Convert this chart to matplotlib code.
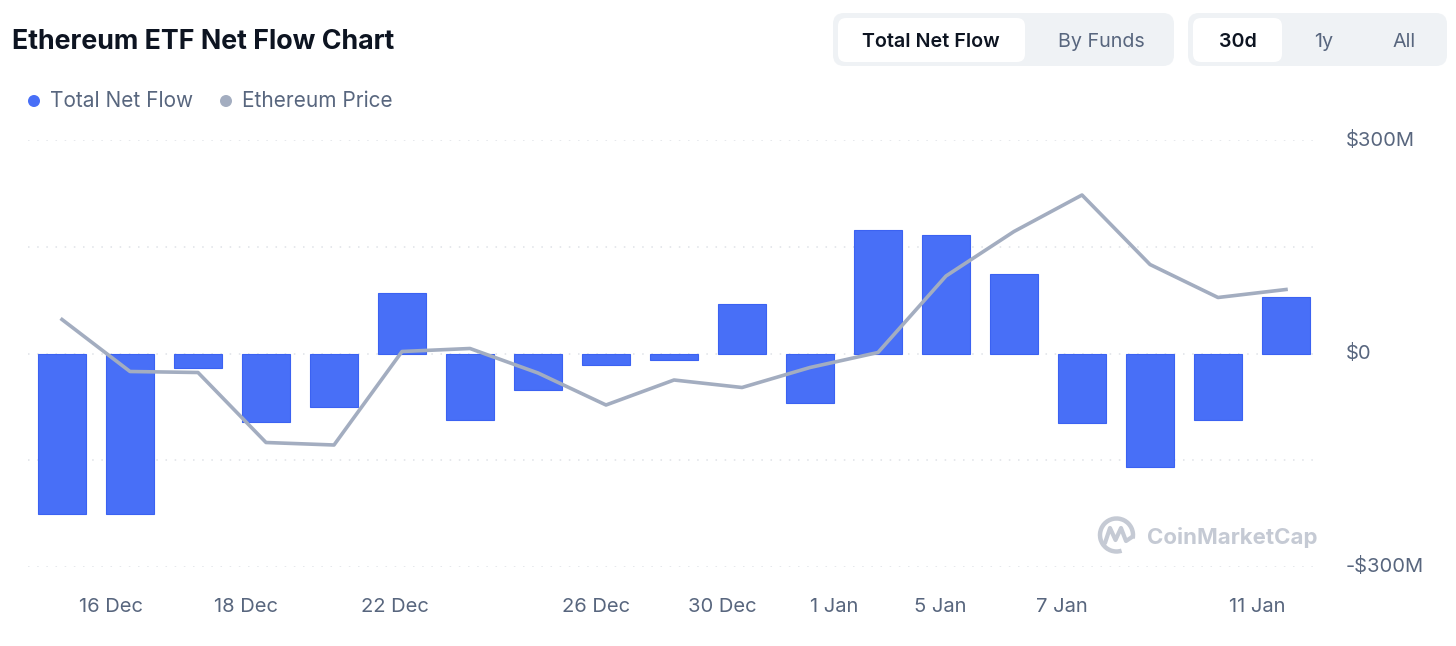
import matplotlib
matplotlib.use("Agg")
import matplotlib.pyplot as plt
from matplotlib.patches import FancyBboxPatch, Circle, Arc
import matplotlib.transforms as mtransforms
import numpy as np

plt.rcParams['font.family'] = ['Inter', 'DejaVu Sans']

# ---------------- data ----------------
dates = ["13 Dec", "16 Dec", "17 Dec", "18 Dec", "19 Dec", "20 Dec", "23 Dec", "24 Dec",
         "26 Dec", "27 Dec", "30 Dec", "31 Dec", "2 Jan", "3 Jan", "6 Jan", "7 Jan",
         "8 Jan", "10 Jan", "13 Jan"]
net_flow_musd = [-225, -225, -21, -96, -75, 85, -93, -51, -16, -9, 69, -70,
                 173, 166, 112, -98, -159, -94, 80]
eth_price_usd = [3531, 3427, 3425, 3285, 3280, 3467, 3473, 3424, 3360, 3410, 3395,
                 3435, 3465, 3618, 3707, 3780, 3641, 3575, 3591]
tick_labels = ["16 Dec", "18 Dec", "22 Dec", "26 Dec", "30 Dec", "1 Jan", "5 Jan", "7 Jan", "11 Jan"]
y_ticks_musd = [-300, -150, 0, 150, 300]
y_tick_labels = {300: "$300M", 0: "$0", -300: "-$300M"}

# ---------------- layout ----------------
W, H = 1456, 646
fig = plt.figure(figsize=(W / 100, H / 100), dpi=100)
fig.patch.set_facecolor("white")

ax_left, ax_right, ax_top, ax_bot = 28, 1320, 140, 567
ax = fig.add_axes([ax_left / W, 1 - ax_bot / H, (ax_right - ax_left) / W, (ax_bot - ax_top) / H])
ax.set_facecolor("none")
x = np.arange(len(dates))
ax.set_xlim(-0.5, len(dates) - 0.5)
ax.set_ylim(-300, 300)

for yv in y_ticks_musd:
    ax.axhline(yv, color="#dfe2e7", lw=1.1, ls=(0, (1, 5)), zorder=0)

ax.bar(x, net_flow_musd, width=0.705, color="#486ff7", edgecolor="#3b62f2", lw=0.8, zorder=2)

ax2 = ax.twinx()
ax2.set_ylim(3036, 3890)
ax2.plot(x, eth_price_usd, color="#a3adc0", lw=2.6, zorder=3, solid_joinstyle="round")

for a in (ax, ax2):
    for s in a.spines.values():
        s.set_visible(False)
    a.set_yticks([])
    a.tick_params(length=0)

tick_pos = [0.72, 2.71, 4.90, 7.85, 9.71, 11.35, 12.91, 14.71, 17.57]
ax.set_xticks(tick_pos)
ax.set_xticklabels(tick_labels, fontsize=14.5, color="#58667e")
ax.tick_params(axis="x", pad=22)

trans = mtransforms.blended_transform_factory(fig.transFigure, ax.transData)
for yv, lab in y_tick_labels.items():
    ax.text(1346 / W, yv, lab, transform=trans,
            ha="left", va="center", fontsize=14.5, color="#58667e")

# ---------------- overlay (header, legend, watermark) ----------------
ov = fig.add_axes([0, 0, 1, 1])
ov.set_xlim(0, W)
ov.set_ylim(H, 0)
ov.axis("off")
ov.set_facecolor("none")

ov.text(12, 42, "Ethereum ETF Net Flow Chart", fontsize=19.3, fontweight="bold",
        color="#0d1421", ha="left", va="center")

def rbox(x0, y0, x1, y1, color, r=9):
    ov.add_patch(FancyBboxPatch((x0 + r, y0 + r), x1 - x0 - 2 * r, y1 - y0 - 2 * r,
                                boxstyle=f"round,pad={r}", fc=color, ec="none"))

rbox(833, 13, 1174, 66, "#eff2f5", 11)
rbox(838, 18, 1025, 62, "white", 8)
ov.text(931, 42, "Total Net Flow", fontsize=14.2, fontweight="semibold", color="#0d1421", ha="center", va="center")
ov.text(1101, 42, "By Funds", fontsize=14.2, color="#58667e", ha="center", va="center")

rbox(1188, 13, 1447, 66, "#eff2f5", 11)
rbox(1193, 18, 1282, 62, "white", 8)
ov.text(1238, 42, "30d", fontsize=14.2, fontweight="semibold", color="#0d1421", ha="center", va="center")
ov.text(1324, 42, "1y", fontsize=14.2, color="#58667e", ha="center", va="center")
ov.text(1404, 42, "All", fontsize=14.2, color="#58667e", ha="center", va="center")

# legend
ov.add_patch(Circle((34, 101), 6, fc="#486ff7", ec="none"))
ov.text(50, 101, "Total Net Flow", fontsize=15, color="#58667e", ha="left", va="center")
ov.add_patch(Circle((226, 101), 6, fc="#a3adc0", ec="none"))
ov.text(242, 101, "Ethereum Price", fontsize=15, color="#58667e", ha="left", va="center")

# watermark
wm = "#c5cad4"
ov.add_patch(Arc((1116.5, 535), 33, 33, theta1=72, theta2=372, lw=3.2, color=wm))
ov.plot([1105, 1110, 1115.5, 1121, 1126, 1132], [543, 528, 540, 528, 541, 537],
        color=wm, lw=3, solid_joinstyle="round", solid_capstyle="round")
ov.text(1147, 537, "CoinMarketCap", fontsize=16, fontweight="bold", color=wm, ha="left", va="center")

fig.savefig("out.png", dpi=100, facecolor="white")
